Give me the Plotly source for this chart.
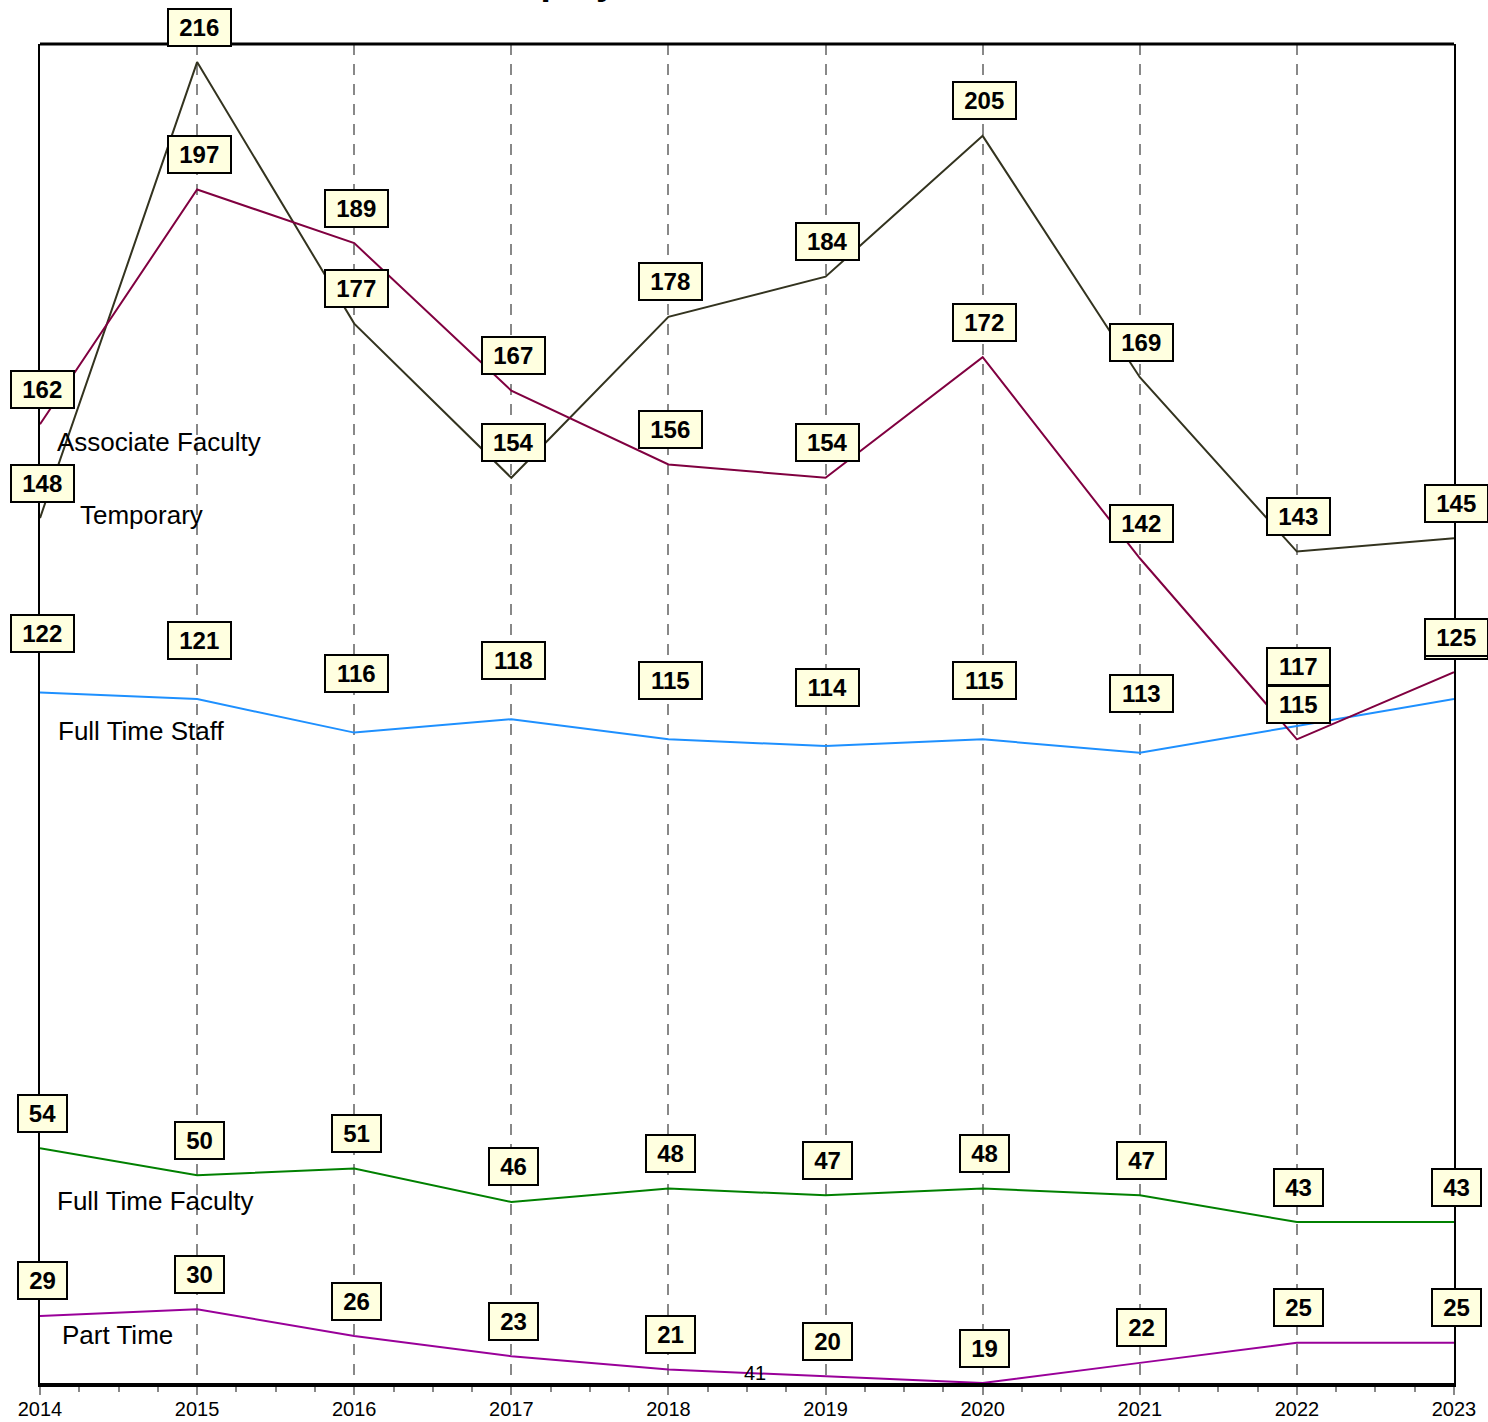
import plotly.graph_objects as go

years = [2014, 2015, 2016, 2017, 2018, 2019, 2020, 2021, 2022, 2023]
temporary = [148, 216, 177, 154, 178, 184, 205, 169, 143, 145]
associate_faculty = [162, 197, 189, 167, 156, 154, 172, 142, 115, 125]
full_time_staff = [122, 121, 116, 118, 115, 114, 115, 113, 117, 121]
full_time_faculty = [54, 50, 51, 46, 48, 47, 48, 47, 43, 43]
part_time = [29, 30, 26, 23, 21, 20, 19, 22, 25, 25]

series = [
    ("Full Time Staff", full_time_staff, "#1E90FF", 59, 16, 39),
    ("Temporary", temporary, "#33331f", 35, 38, -3),
    ("Associate Faculty", associate_faculty, "#800040", 35, 15, 18),
    ("Full Time Faculty", full_time_faculty, "#008000", 35, 15, 53),
    ("Part Time", part_time, "#990099", 35, 20, 19),
]

FONT = "Liberation Sans, Arial, sans-serif"

fig = go.Figure()
for name, vals, color, _, _, _ in series:
    fig.add_trace(go.Scatter(x=years, y=vals, mode="lines", name=name,
                             line=dict(color=color, width=2), hoverinfo="skip"))

annotations = []
# value label boxes
for name, vals, color, off, _, _ in series:
    for x, v in zip(years, vals):
        txt = str(v)
        annotations.append(dict(
            x=x, y=v, xref="x", yref="y", text=f"<b>{txt}</b>", showarrow=False,
            xanchor="center", yanchor="middle", yshift=off, xshift=2,
            font=dict(family=FONT, size=24, color="black"),
            bgcolor="#ffffe0", bordercolor="black", borderwidth=2,
            width=13.5 * len(txt) + 16, height=31, borderpad=2, align="center",
        ))
# series name labels
for name, vals, color, off, dx, dy in series:
    annotations.append(dict(
        x=years[0], y=vals[0], xref="x", yref="y", text=name, showarrow=False,
        xanchor="left", yanchor="middle", xshift=dx, yshift=-dy,
        font=dict(family=FONT, size=26, color="black"),
    ))
# stray label
annotations.append(dict(x=2018.55, y=20.5, xref="x", yref="y", text="41",
                        showarrow=False, xanchor="center", yanchor="middle",
                        font=dict(family=FONT, size=20, color="black")))
# title (mostly above the page)
annotations.append(dict(x=0.312, y=1.0299, xref="paper", yref="paper",
                        text="<b>Employee Headcount</b>", showarrow=False,
                        xanchor="left", yanchor="bottom",
                        font=dict(family=FONT, size=37, color="black")))

fig.update_layout(
    width=1488, height=1422,
    margin=dict(l=40, r=34, t=44, b=39, autoexpand=False),
    plot_bgcolor="white", paper_bgcolor="white",
    showlegend=False,
    annotations=annotations,
    shapes=[dict(type="line", xref="paper", yref="paper", x0=0, x1=1, y0=1, y1=1,
                 line=dict(color="black", width=3))],
    font=dict(family=FONT),
)
fig.update_xaxes(
    range=[2014, 2023], dtick=1, tick0=2014, showline=True, linecolor="black", linewidth=4,
    ticks="outside", ticklen=8, tickwidth=2, tickcolor="#888888",
    tickfont=dict(family=FONT, size=20, color="black"), ticklabelstandoff=-3,
    showgrid=True, gridcolor="#888888", gridwidth=2, griddash="11px,9px",
    minor=dict(dtick=0.25, ticks="outside", ticklen=5, tickwidth=2, tickcolor="#888888", showgrid=False),
    zeroline=False, automargin=False,
)
fig.update_yaxes(
    range=[19, 218.7], showticklabels=False, showgrid=False, zeroline=False,
    showline=True, linecolor="black", linewidth=2, mirror=True, ticks="", automargin=False,
)

fig.write_html("out.html", config={"displayModeBar": False},
               post_script="document.body.style.margin='0';document.body.style.overflow='hidden';")
